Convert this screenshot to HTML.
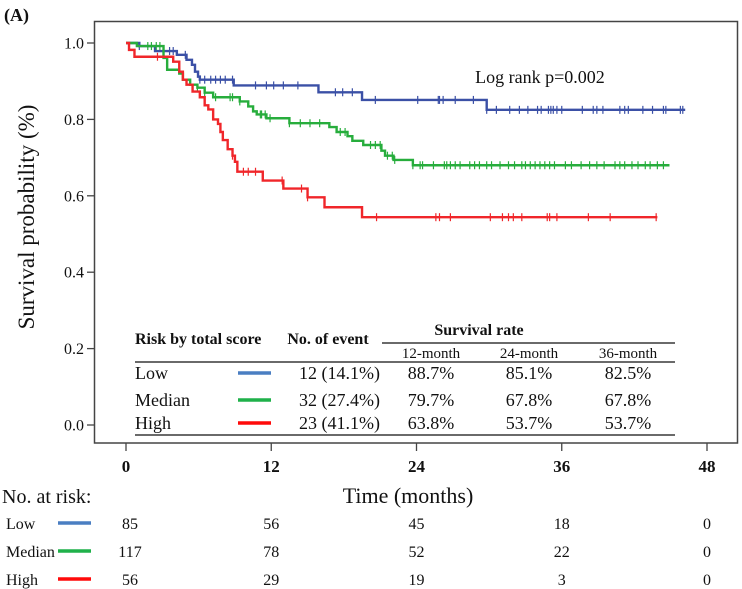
<!DOCTYPE html>
<html><head><meta charset="utf-8">
<style>
html,body{margin:0;padding:0;background:#fff;}
svg{display:block;}
text{font-family:"Liberation Serif",serif;fill:#111;}
</style></head>
<body>
<svg id="chart" width="742" height="589" viewBox="0 0 742 589" xmlns="http://www.w3.org/2000/svg">
<text x="4" y="21" font-size="18" font-weight="bold">(A)</text>
<rect x="94.5" y="21.5" width="643" height="421.5" fill="none" stroke="#444" stroke-width="1.5"/>
<g id="yaxis"></g>
<g id="xaxis"></g>
<text transform="translate(34,217) rotate(-90)" text-anchor="middle" font-size="23">Survival probability (%)</text>
<text x="408" y="503" text-anchor="middle" font-size="22">Time (months)</text>
<text x="540" y="83" font-size="18" text-anchor="middle">Log rank p=0.002</text>
<g id="curves"></g>
<g id="table">
  <text x="135" y="344" font-size="16" font-weight="bold">Risk by total score</text>
  <text x="328" y="344" font-size="16" font-weight="bold" text-anchor="middle">No. of event</text>
  <text x="479" y="335" font-size="16" font-weight="bold" text-anchor="middle">Survival rate</text>
  <line x1="382" y1="343" x2="675" y2="343" stroke="#111" stroke-width="1.2"/>
  <text x="431" y="358" font-size="15" text-anchor="middle">12-month</text>
  <text x="529" y="358" font-size="15" text-anchor="middle">24-month</text>
  <text x="628" y="358" font-size="15" text-anchor="middle">36-month</text>
  <line x1="135" y1="362" x2="675" y2="362" stroke="#111" stroke-width="1.2"/>
  <line x1="135" y1="435" x2="675" y2="435" stroke="#111" stroke-width="1.2"/>
</g>
<g id="risk">
  <text x="2" y="503" font-size="20">No. at risk:</text>
</g>
</svg>
<script>
const NS="http://www.w3.org/2000/svg";
const yTicks=[0,0.2,0.4,0.6,0.8,1.0];
const yTickLabels=["0.0","0.2","0.4","0.6","0.8","1.0"];
const xTicks=[0,12,24,36,48];
const xTickLabels=["0","12","24","36","48"];
const groups=["Low","Median","High"];
const curveColors=["#3b50a6","#27ad3c","#f0262a"];
const legendColors=["#4a7ec2","#1fb14a","#ff0a0a"];
const lowTimes=[0,1.1,2.4,4.2,5.0,5.45,5.7,5.95,6.1,8.9,15.9,19.5,29.8];
const lowSurv=[1,0.992,0.979,0.969,0.956,0.943,0.925,0.912,0.904,0.889,0.871,0.851,0.825];
const lowEnd=46.2;
const lowCensor=[1.1,3.1,3.6,3.9,4.9,6.1,6.5,7.0,7.4,7.8,8.2,8.8,10.7,11.6,12.2,13.0,14.2,17.3,17.9,18.7,20.6,24.1,25.8,25.9,26.2,27.2,28.7,29.8,30.6,31.7,32.5,33.2,34.0,34.3,34.9,35.1,35.3,35.6,36.0,37.7,38.6,38.9,39.4,40.8,41.2,41.5,42.7,43.5,44.4,44.6,45.8,46.0];
const medTimes=[0,0.9,3.1,3.4,4.4,4.7,5.3,5.9,6.5,7.2,9.4,10.1,10.5,10.8,11.6,13.5,16.8,17.4,18.3,18.7,19.6,21.1,21.4,22.1,23.7];
const medSurv=[1,0.992,0.961,0.93,0.92,0.904,0.891,0.883,0.870,0.858,0.847,0.834,0.821,0.813,0.803,0.790,0.780,0.767,0.756,0.744,0.733,0.718,0.705,0.694,0.680];
const medEnd=44.9;
const medCensor=[1.8,2.1,2.5,2.8,5.9,6.5,7.4,8.6,8.8,9.4,11.1,11.2,11.5,11.9,13.5,14.4,15.2,16.0,17.7,18.1,20.2,20.6,21.0,21.6,22.0,22.2,23.7,24.3,24.5,25.4,26.3,26.5,26.8,27.2,27.6,28.4,28.8,29.2,29.8,30.2,30.9,31.6,32.1,32.7,33.0,33.4,33.8,34.2,34.6,35.0,35.4,36.3,36.8,37.6,38.3,38.9,39.5,40.4,40.8,41.2,41.8,42.3,42.9,43.3,43.9,44.4];
const highTimes=[0,0.25,0.7,3.9,4.4,4.7,5.0,5.5,6.1,6.5,6.8,7.2,7.6,7.8,8.0,8.4,8.8,9.0,9.2,11.3,13.0,15.0,16.4,19.5];
const highSurv=[1,0.982,0.964,0.951,0.925,0.904,0.891,0.873,0.858,0.837,0.826,0.80,0.788,0.767,0.746,0.722,0.705,0.689,0.663,0.640,0.619,0.596,0.570,0.544];
const highEnd=43.9;
const highCensor=[2.6,8.8,9.7,10.1,10.7,12.9,14.5,15.0,20.7,25.6,25.9,26.8,30.1,31.1,31.6,32.0,32.7,34.8,35.0,35.6,38.2,40.0,43.8];
const eventsText=["12 (14.1%)","32 (27.4%)","23 (41.1%)"];
const rate12=["88.7%","79.7%","63.8%"];
const rate24=["85.1%","67.8%","53.7%"];
const rate36=["82.5%","67.8%","53.7%"];
const riskLow=[85,56,45,18,0];
const riskMedian=[117,78,52,22,0];
const riskHigh=[56,29,19,3,0];

const X=t=>126+t*(581/48);
const Y=s=>425-382*s;
function mk(tag,attrs,parent){const e=document.createElementNS(NS,tag);for(const k in attrs)e.setAttribute(k,attrs[k]);parent.appendChild(e);return e;}

const ya=document.getElementById('yaxis');
yTicks.forEach((v,i)=>{
  const l=mk('line',{x1:87,x2:94,y1:Y(v),y2:Y(v),stroke:'#444','stroke-width':1.3},ya);
  
  
  const t=mk('text',{x:84,y:Y(v)+5.5,'text-anchor':'end','font-size':16,'font-family':'DejaVu Serif, serif'},ya);
  
  
  t.textContent=yTickLabels[i];
});
const xa=document.getElementById('xaxis');
xTicks.forEach((v,i)=>{
  const l=mk('line',{x1:X(v),x2:X(v),y1:443,y2:451,stroke:'#444','stroke-width':1.3},xa);
  
  
  const t=mk('text',{x:X(v),y:472,'text-anchor':'middle','font-size':17,'font-weight':'bold','font-family':'DejaVu Serif, serif'},xa);
  
  
  t.textContent=xTickLabels[i];
});

const cg=document.getElementById('curves');
const series=[[lowTimes,lowSurv,lowEnd,lowCensor],[medTimes,medSurv,medEnd,medCensor],[highTimes,highSurv,highEnd,highCensor]];
series.forEach((s,gi)=>{
  const [T,S,end,C]=s;
  let d='M'+X(T[0])+','+Y(S[0]);
  for(let i=1;i<T.length;i++){d+=' H'+X(T[i])+' V'+Y(S[i]);}
  d+=' H'+X(end);
  const p=mk('path',{d:d,fill:'none',stroke:curveColors[gi],'stroke-width':2.4},cg);
  
  
  C.forEach(t=>{
    let sv=S[0];for(let i=0;i<T.length;i++){if(T[i]<=t)sv=S[i];}
    const m=mk('line',{x1:X(t),x2:X(t),y1:Y(sv)-4,y2:Y(sv)+4,stroke:curveColors[gi],'stroke-width':1.2},cg);
    
    
  });
});

const tb=document.getElementById('table');
const rowY=[379,406,429];
groups.forEach((g,i)=>{
  const y=rowY[i];
  const a=mk('text',{x:135,y:y,'font-size':18},tb);
  
  
  a.textContent=g;
  const l=mk('line',{x1:238,x2:271,y1:y-6,y2:y-6,stroke:legendColors[i],'stroke-width':3.5},tb);
  
  
  const vals=[[380,'end',eventsText[i]],[431,'middle',rate12[i]],[529,'middle',rate24[i]],[628,'middle',rate36[i]]];
  vals.forEach(v=>{
    const t=mk('text',{x:v[0],y:y,'font-size':18,'text-anchor':v[1]},tb);
    
    
    t.textContent=v[2];
  });
});

const rk=document.getElementById('risk');
const riskRows=[riskLow,riskMedian,riskHigh];
const riskY=[529,557,585];
groups.forEach((g,i)=>{
  const y=riskY[i];
  const a=mk('text',{x:6,y:y,'font-size':16},rk);
  
  
  a.textContent=g;
  const l=mk('line',{x1:58,x2:91,y1:y-6,y2:y-6,stroke:legendColors[i],'stroke-width':3.5},rk);
  
  
  riskRows[i].forEach((n,j)=>{
    const t=mk('text',{x:X(xTicks[j])+(j==0?4:0),y:y,'font-size':16,'text-anchor':'middle'},rk);
    
    
    t.textContent=n;
  });
});
</script>
</body></html>
